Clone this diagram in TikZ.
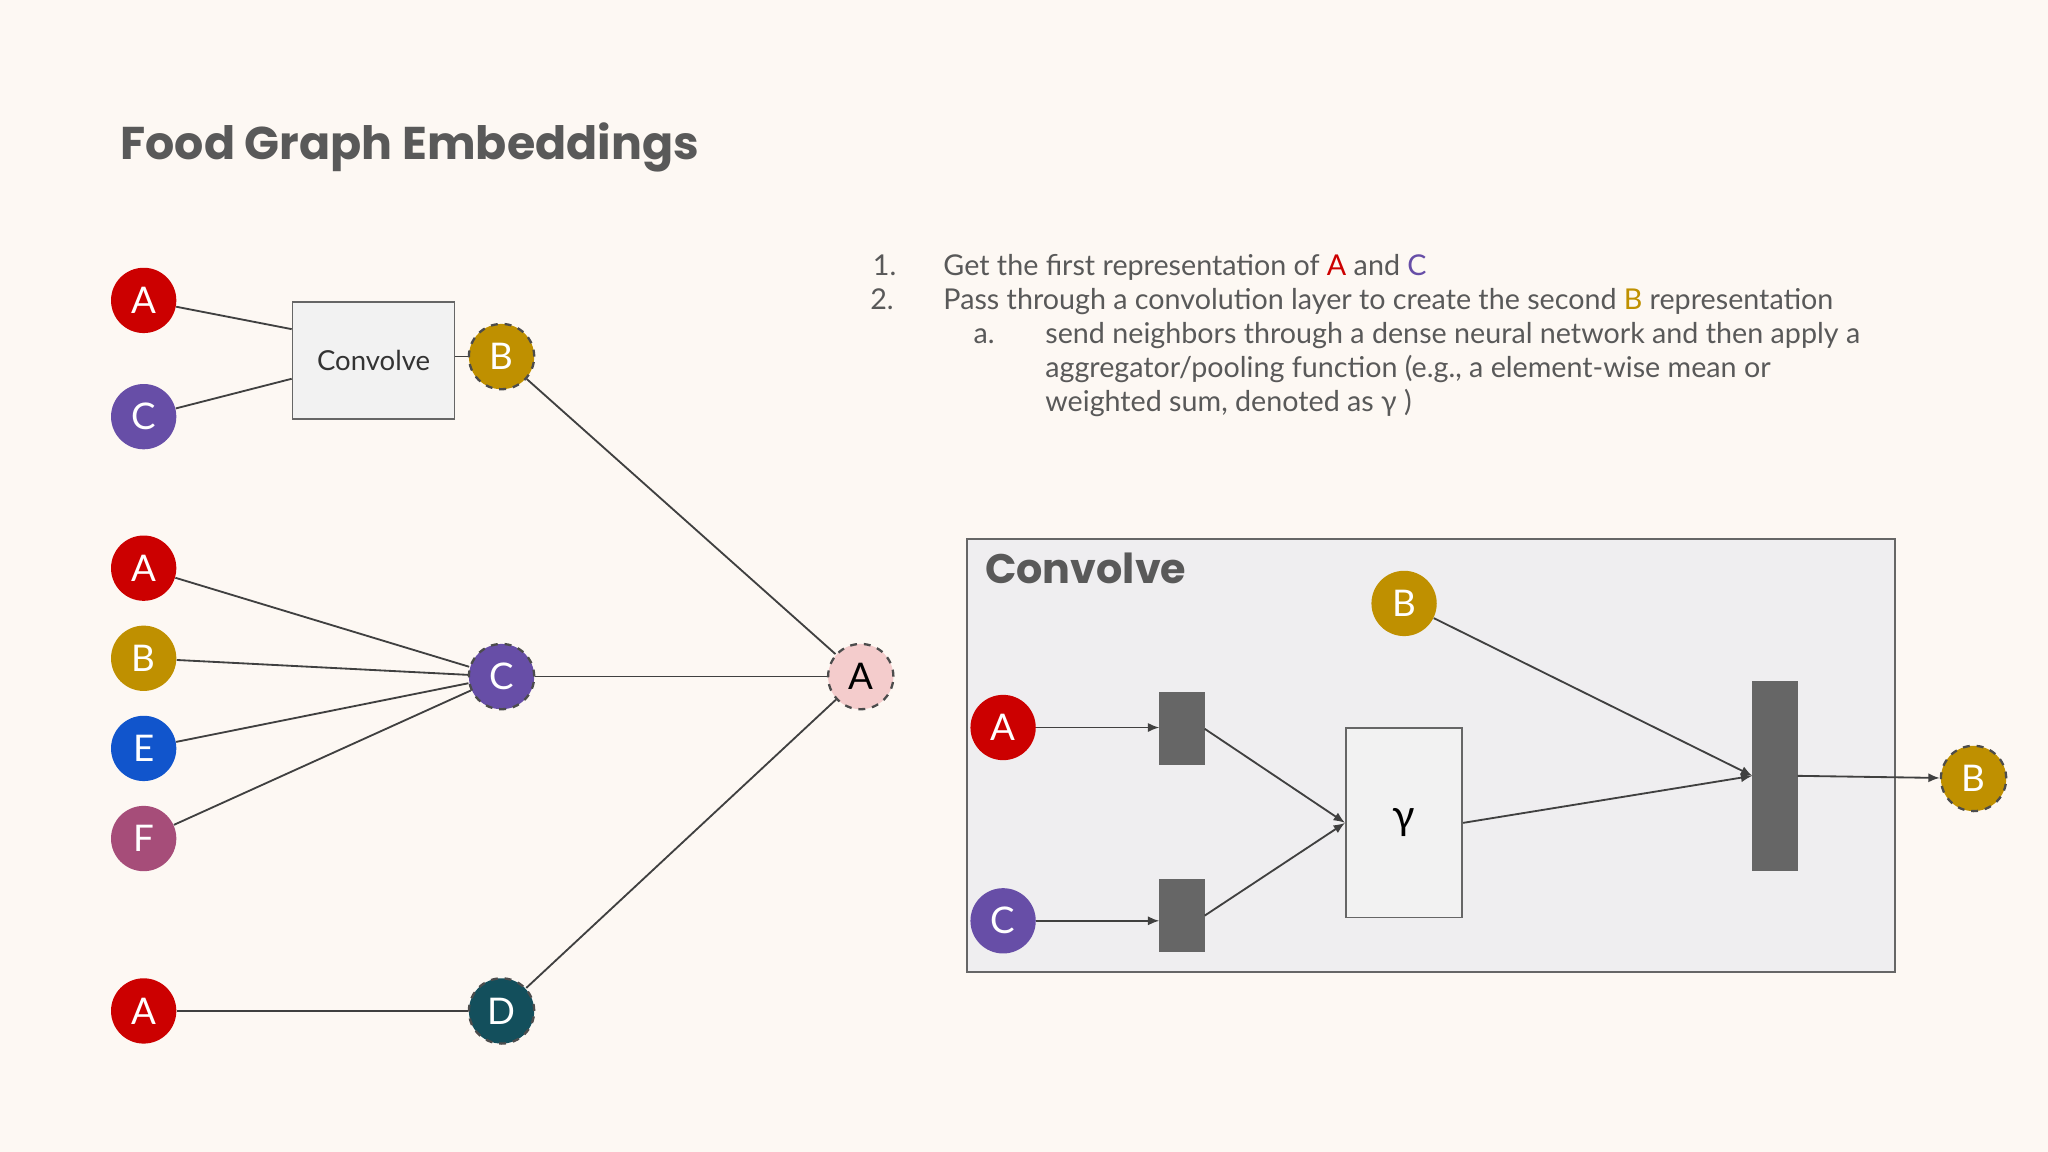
\documentclass[tikz,border=0pt]{standalone}
\usepackage{fontspec}
\setmainfont{Lato}
\newfontfamily\titlefont{Poppins}
\usetikzlibrary{arrows.meta}
\definecolor{bg}{HTML}{FDF8F3}
\definecolor{cA}{HTML}{CC0000}
\definecolor{cB}{HTML}{BF9000}
\definecolor{cC}{HTML}{674EA7}
\definecolor{cE}{HTML}{1155CC}
\definecolor{cF}{HTML}{A64D79}
\definecolor{cD}{HTML}{134F5C}
\definecolor{cP}{HTML}{F4CCCC}
\definecolor{txt}{HTML}{595959}
\definecolor{dark}{HTML}{666666}
\definecolor{panel}{HTML}{EFEEF0}
\tikzset{
 nd/.style={circle,minimum size=50*0.02cm,inner sep=0pt,text=white,font=\fontsize{16}{16}\selectfont},
 dnd/.style={nd,draw=black!70,dashed,line width=1pt},
 ln/.style={draw=black!75,line width=0.8pt},
 ar/.style={ln,-{Latex[length=5pt,width=4pt]}},
 box/.style={draw=black!60,fill=black!5,line width=0.8pt,inner sep=0pt},
 bar/.style={fill=dark,draw=black!60,inner sep=0pt},
}
\begin{document}
\begin{tikzpicture}[x=0.02cm,y=-0.02cm]
\fill[bg] (0,0) rectangle (1568,882);
\useasboundingbox (0,0) rectangle (1568,882);
\node[anchor=west,text=txt,font=\titlefont\bfseries\fontsize{20}{20}\selectfont] (title) at (86,113) {Food Graph Embeddings};
% left
\node[nd,fill=cA] (a1) at (110,230) {A};
\node[nd,fill=cC] (c1) at (110,319) {C};
\node[box,minimum width=124*0.02cm,minimum height=89*0.02cm,font=\fontsize{12}{12}\selectfont,text=black!80] (cv) at (286,276) {Convolve};
\node[dnd,fill=cB] (b1) at (384,273) {B};
\node[nd,fill=cA] (a2) at (110,435) {A};
\node[nd,fill=cB] (b2) at (110,504) {B};
\node[nd,fill=cE] (e2) at (110,573) {E};
\node[nd,fill=cF] (f2) at (110,642) {F};
\node[dnd,fill=cC] (c2) at (384,518) {C};
\node[nd,fill=cA] (a3) at (110,774) {A};
\node[dnd,fill=cD] (d3) at (384,774) {D};
\node[dnd,fill=cP,text=black] (ap) at (659,518) {A};
\draw[ln] (a1) -- (cv.west |- 0,252);
\draw[ln] (c1) -- (cv.west |- 0,290);
\draw[ln] (cv.east |- b1) -- (b1);
\foreach \n in {a2,b2,e2,f2} \draw[ln] (\n) -- (c2);
\draw[ln] (a3) -- (d3);
\draw[ln] (b1) -- (ap);
\draw[ln] (c2) -- (ap);
\draw[ln] (d3) -- (ap);
% text
\begin{scope}[every node/.style={anchor=base west,text=txt,font=\fontsize{12.5}{12.5}\selectfont,inner sep=0pt}]
\node (n1) at (668,211) {1.};
\node (t1) at (722,211) {Get the first representation of \textcolor{cA}{A} and \textcolor{cC}{C}};
\node (n2) at (666,237) {2.};
\node (t2) at (722,237) {Pass through a convolution layer to create the second \textcolor{cB}{B} representation};
\node (na) at (745,263) {a.};
\node (ta1) at (800,263) {send neighbors through a dense neural network and then apply a};
\node (ta2) at (800,289) {aggregator/pooling function (e.g., a element-wise mean or};
\node (ta3) at (800,315) {weighted sum, denoted as γ )};
\end{scope}
% panel
\draw[fill=panel,draw=black!60,line width=0.9pt] (740,413) rectangle (1451,744);
\node[anchor=west,text=txt,font=\titlefont\bfseries\fontsize{18}{18}\selectfont] (ptitle) at (748,435) {Convolve};
\node[nd,fill=cB] (pb) at (1075,462) {B};
\node[nd,fill=cA] (pa) at (768,557) {A};
\node[nd,fill=cC] (pc) at (768,705) {C};
\node[bar,minimum width=34*0.02cm,minimum height=55*0.02cm] (r1) at (905,558) {};
\node[bar,minimum width=34*0.02cm,minimum height=55*0.02cm] (r2) at (905,701) {};
\node[box,minimum width=89*0.02cm,minimum height=145*0.02cm,font=\fontsize{18}{18}\selectfont] (g) at (1075,630) {γ};
\node[bar,minimum width=34*0.02cm,minimum height=145*0.02cm] (tr) at (1359,594) {};
\node[dnd,fill=cB] (pbo) at (1511,596) {B};
\draw[ar] (pa) -- (r1.west |- pa);
\draw[ar] (pc) -- (r2.west |- pc);
\draw[ar] (r1.east) -- (g.west);
\draw[ar] (r2.east) -- (g.west);
\draw[ar] (g.east) -- (tr.west);
\draw[ar] (pb) -- (tr.west);
\draw[ar] (tr.east) -- (pbo);
\end{tikzpicture}
\end{document}
